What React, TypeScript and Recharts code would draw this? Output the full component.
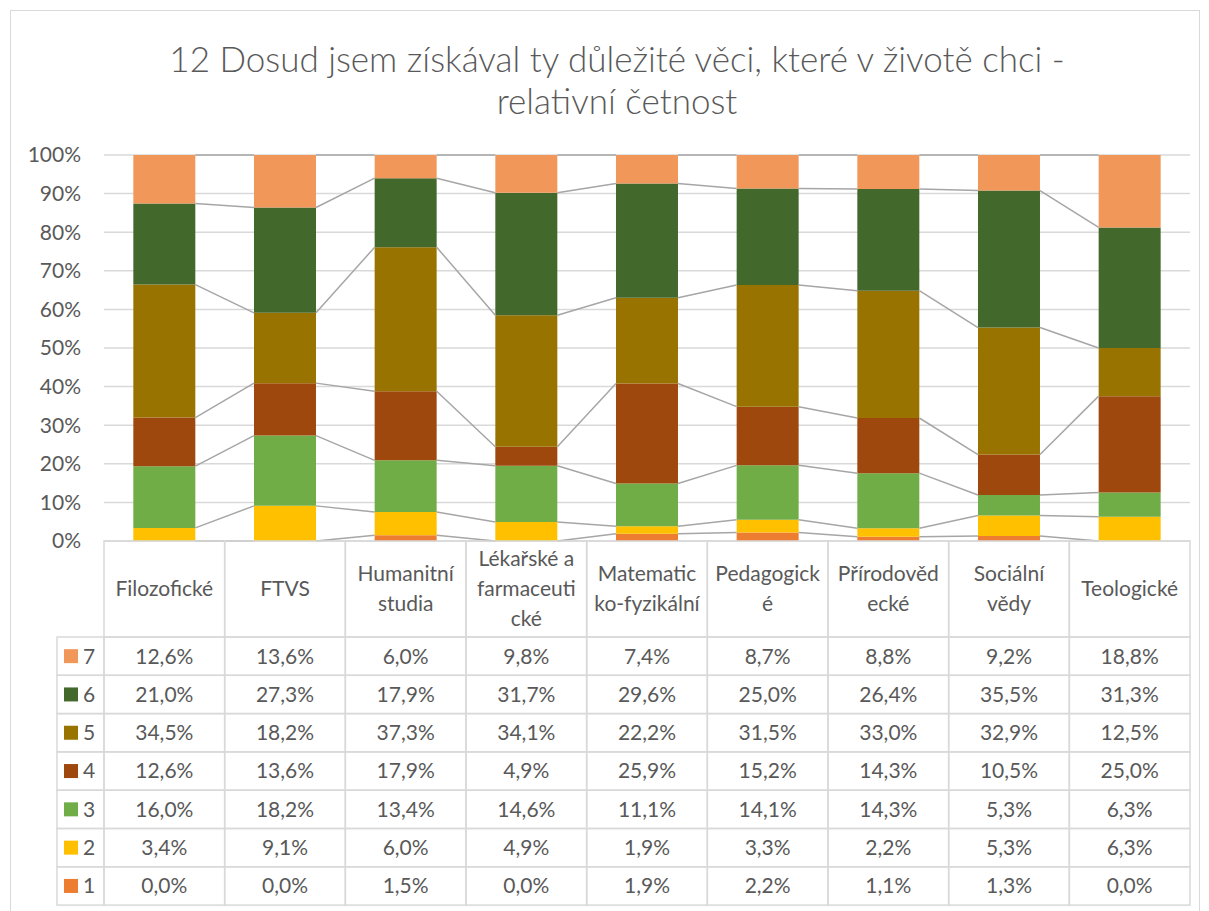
import { ComposedChart, Bar, Line, XAxis, YAxis, CartesianGrid, Legend } from 'recharts'

const categories = [
  'Filozofické',
  'FTVS',
  'Humanitní studia',
  'Lékařské a farmaceutické',
  'Matematicko-fyzikální',
  'Pedagogické',
  'Přírodovědecké',
  'Sociální vědy',
  'Teologické',
]
// header text as it wraps in the data table
const headerLines = [
  ['Filozofické'],
  ['FTVS'],
  ['Humanitní', 'studia'],
  ['Lékařské a', 'farmaceuti', 'cké'],
  ['Matematic', 'ko-fyzikální'],
  ['Pedagogick', 'é'],
  ['Přírodověd', 'ecké'],
  ['Sociální', 'vědy'],
  ['Teologické'],
]

const s1 = [0.0, 0.0, 1.5, 0.0, 1.9, 2.2, 1.1, 1.3, 0.0]
const s2 = [3.4, 9.1, 6.0, 4.9, 1.9, 3.3, 2.2, 5.3, 6.3]
const s3 = [16.0, 18.2, 13.4, 14.6, 11.1, 14.1, 14.3, 5.3, 6.3]
const s4 = [12.6, 13.6, 17.9, 4.9, 25.9, 15.2, 14.3, 10.5, 25.0]
const s5 = [34.5, 18.2, 37.3, 34.1, 22.2, 31.5, 33.0, 32.9, 12.5]
const s6 = [21.0, 27.3, 17.9, 31.7, 29.6, 25.0, 26.4, 35.5, 31.3]
const s7 = [12.6, 13.6, 6.0, 9.8, 7.4, 8.7, 8.8, 9.2, 18.8]

const yTicks = [0, 0.1, 0.2, 0.3, 0.4, 0.5, 0.6, 0.7, 0.8, 0.9, 1]

const series = [
  { key: 's1', name: '1', values: s1, color: '#ED7D31' },
  { key: 's2', name: '2', values: s2, color: '#FFC000' },
  { key: 's3', name: '3', values: s3, color: '#70AD47' },
  { key: 's4', name: '4', values: s4, color: '#9E480E' },
  { key: 's5', name: '5', values: s5, color: '#997300' },
  { key: 's6', name: '6', values: s6, color: '#43682B' },
  { key: 's7', name: '7', values: s7, color: '#F1975A' },
]

const data = categories.map((name, i) => {
  const row: Record<string, string | number> = { name }
  series.forEach(s => { row[s.key] = s.values[i] })
  return row
})

const BAR_FRAC = 0.514
const FONT = 'Lato, "Open Sans", sans-serif'
const TEXT = '#595959'
const BORDER = '#d9d9d9'
const FS = 21
const HEADER_H = 96
const ROW_H = 38.3

// series lines: top of each stacked segment, joined across the gap between bars
const totals = categories.map((_, i) => series.reduce((sum, s) => sum + s.values[i], 0))
const cumAt = (k: number, i: number) =>
  series.slice(0, k + 1).reduce((sum, s) => sum + s.values[i], 0) / totals[i]
const seriesLines = series.map((_, k) =>
  categories.slice(0, -1).flatMap((_, i) => [
    { x: i + 0.5 + BAR_FRAC / 2, y: cumAt(k, i) },
    { x: i + 1.5 - BAR_FRAC / 2, y: cumAt(k, i + 1) },
    { x: i + 1.5, y: null },
  ])
)

const fmt = (v: number) => v.toFixed(1).replace('.', ',') + '%'
const rows = [...series].reverse()

function TableColumn(props: any) {
  const { x, y, payload } = props
  const idx = payload.index
  const w = payload.offset ? payload.offset * 2 : 120.7
  const left = x - w / 2
  const lines = headerLines[idx] || [payload.value]
  const lh = 30
  const firstY = y + HEADER_H / 2 - ((lines.length - 1) * lh) / 2
  return (
    <g>
      <rect x={left} y={y} width={w} height={HEADER_H} fill="none" stroke={BORDER} strokeWidth={1.5} />
      {lines.map((t, j) => (
        <text key={j} x={x} y={firstY + j * lh} dy="0.35em" textAnchor="middle" fill={TEXT} fontSize={FS} fontFamily={FONT}>
          {t}
        </text>
      ))}
      {rows.map((s, r) => {
        const ry = y + HEADER_H + r * ROW_H
        return (
          <g key={s.key}>
            <rect x={left} y={ry} width={w} height={ROW_H} fill="none" stroke={BORDER} strokeWidth={1.5} />
            <text x={x} y={ry + ROW_H / 2} dy="0.35em" textAnchor="middle" fill={TEXT} fontSize={FS} fontFamily={FONT}>
              {fmt(s.values[idx])}
            </text>
          </g>
        )
      })}
    </g>
  )
}

function LegendKeys() {
  return (
    <svg width={48} height={rows.length * ROW_H + 2} style={{ display: 'block', overflow: 'visible' }}>
      {rows.map((s, r) => {
        const ry = 1 + r * ROW_H
        return (
          <g key={s.key}>
            <rect x={1} y={ry} width={47} height={ROW_H} fill="none" stroke={BORDER} strokeWidth={1.5} />
            <rect x={8} y={ry + ROW_H / 2 - 7} width={14} height={14} fill={s.color} />
            <text x={27} y={ry + ROW_H / 2} dy="0.35em" fill={TEXT} fontSize={FS} fontFamily={FONT}>
              {s.name}
            </text>
          </g>
        )
      })}
    </svg>
  )
}

export default function App() {
  return (
    <div style={{ position: 'absolute', left: 0, top: 0, width: 1209, height: 911, background: '#fff', overflow: 'hidden' }}>
      <div style={{ position: 'absolute', left: 10, top: 10, width: 1188, height: 920, border: `1.5px solid ${BORDER}` }} />
      <div
        style={{
          position: 'absolute', left: 17, top: 37, width: 1200, textAlign: 'center',
          fontFamily: FONT, fontWeight: 300, fontSize: 35, lineHeight: '42px', color: TEXT,
        }}
      >
        12 Dosud jsem získával ty důležité věci, které v životě chci -<br />relativní četnost
      </div>
      <div style={{ position: 'absolute', left: 0, top: 0 }}>
        <ComposedChart
          width={1209}
          height={911}
          data={data}
          stackOffset="expand"
          barCategoryGap={`${((1 - BAR_FRAC) / 2) * 100}%`}
          margin={{ top: 155, right: 19, bottom: 0, left: 0 }}
        >
          <CartesianGrid vertical={false} stroke={BORDER} strokeWidth={1.5} />
          <XAxis
            xAxisId="cat"
            dataKey="name"
            interval={0}
            height={370}
            axisLine={false}
            tickLine={false}
            tickSize={0}
            tickMargin={0}
            tick={<TableColumn />}
          />
          <XAxis xAxisId="num" type="number" dataKey="x" domain={[0, categories.length]} allowDataOverflow hide />
          <YAxis
            domain={[0, 1]}
            ticks={yTicks}
            width={104}
            axisLine={false}
            tickLine={false}
            tickSize={0}
            tickMargin={23}
            tickFormatter={(v: number) => `${Math.round(v * 100)}%`}
            tick={{ fill: TEXT, fontSize: FS, fontFamily: FONT }}
          />
          {series.map(s => (
            <Bar key={s.key} xAxisId="cat" dataKey={s.key} name={s.name} stackId="a" fill={s.color} isAnimationActive={false} />
          ))}
          {seriesLines.map((pts, k) => (
            <Line
              key={`sl${k}`}
              xAxisId="num"
              data={pts}
              dataKey="y"
              stroke="#a6a6a6"
              strokeWidth={1.5}
              dot={false}
              activeDot={false}
              legendType="none"
              isAnimationActive={false}
            />
          ))}
          <Legend
            layout="vertical"
            align="center"
            verticalAlign="middle"
            content={<LegendKeys />}
            wrapperStyle={{ position: 'absolute', left: 56, top: 636, width: 48, height: 272 }}
          />
        </ComposedChart>
      </div>
    </div>
  )
}
